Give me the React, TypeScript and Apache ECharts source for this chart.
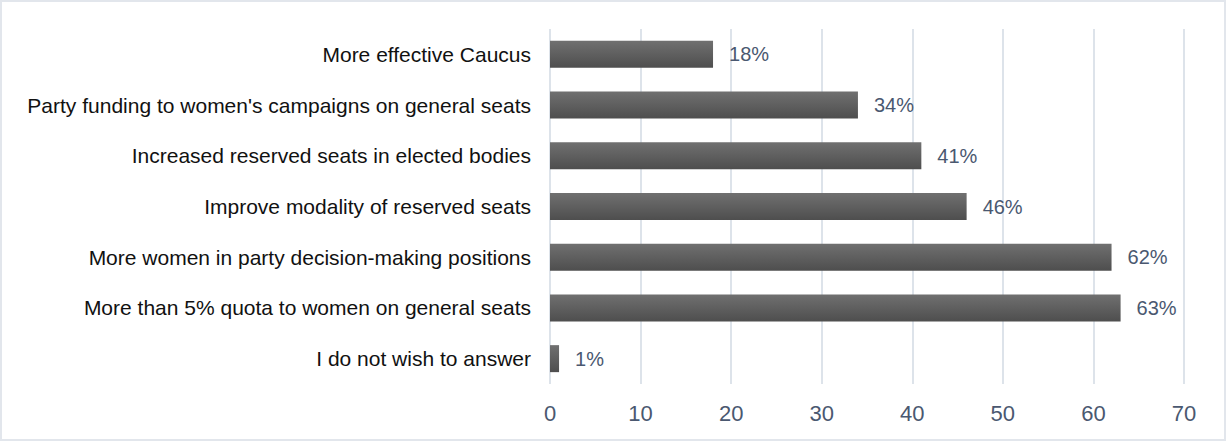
import React, { useEffect, useRef } from "react";
import * as echarts from "echarts";

const categories = [
  "More effective Caucus",
  "Party funding to women's campaigns on general seats",
  "Increased reserved seats in elected bodies",
  "Improve modality of reserved seats",
  "More women in party decision-making positions",
  "More than 5% quota to women on general seats",
  "I do not wish to answer",
];
const values = [18, 34, 41, 46, 62, 63, 1];
const xTicks = { min: 0, max: 70, interval: 10 };

const FONT = "Liberation Sans, Arial, sans-serif";

export default function App() {
  const ref = useRef<HTMLDivElement>(null);
  useEffect(() => {
    document.body.style.margin = "0";
    const chart = echarts.init(ref.current!, null, { renderer: "svg" });
    chart.setOption({
      animation: false,
      grid: { left: 550, right: 42, top: 29, bottom: 57, containLabel: false },
      xAxis: {
        type: "value",
        min: xTicks.min,
        max: xTicks.max,
        interval: xTicks.interval,
        axisLine: { show: false },
        axisTick: { show: false },
        axisLabel: { color: "#4a5870", fontSize: 22, fontFamily: FONT, margin: 18 },
        splitLine: { show: true, lineStyle: { color: "#dde3ea", width: 2 } },
      },
      yAxis: {
        type: "category",
        data: categories,
        inverse: true,
        axisLine: { show: false },
        axisTick: { show: false },
        axisLabel: { color: "#111", fontSize: 21, fontFamily: FONT, margin: 19 },
      },
      series: [
        {
          type: "bar",
          data: values,
          barWidth: 27,
          itemStyle: {
            color: new echarts.graphic.LinearGradient(0, 0, 0, 1, [
              { offset: 0, color: "#707070" },
              { offset: 1, color: "#4e4e4e" },
            ]),
          },
          label: {
            show: true,
            position: "right",
            distance: 16,
            formatter: "{c}%",
            color: "#4a5870",
            fontSize: 20,
            fontFamily: FONT,
          },
        },
      ],
    });
    return () => chart.dispose();
  }, []);
  return (
    <div style={{ width: 1226, height: 441, boxSizing: "border-box", border: "2px solid #e2e6ec", position: "relative" }}>
      <div ref={ref} style={{ position: "absolute", left: -2, top: -2, width: 1226, height: 441 }} />
    </div>
  );
}
